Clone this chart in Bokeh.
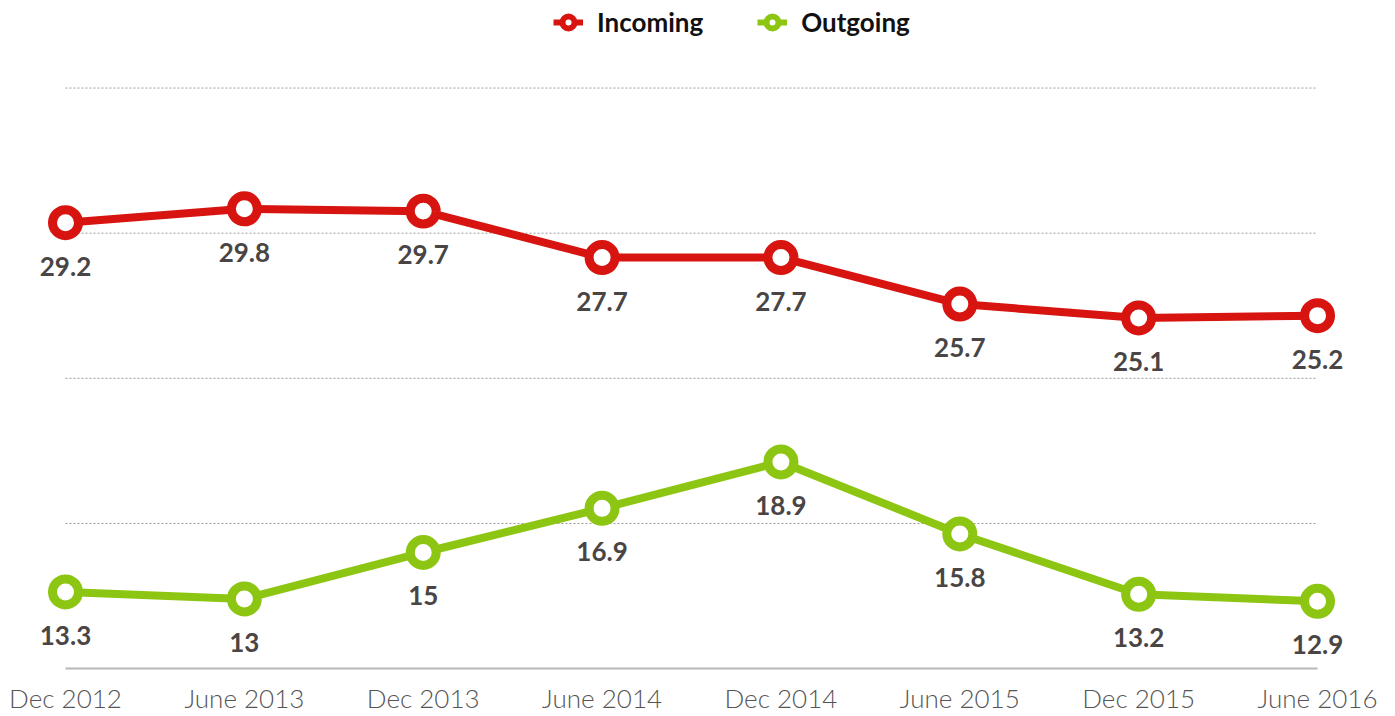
from bokeh.plotting import figure
from bokeh.models import ColumnDataSource, Range1d, FixedTicker, Legend, LegendItem
from bokeh.core.properties import value
from bokeh.embed import file_html
from bokeh.resources import INLINE

periods = ["Dec 2012", "June 2013", "Dec 2013", "June 2014", "Dec 2014", "June 2015", "Dec 2015", "June 2016"]
incoming = [29.2, 29.8, 29.7, 27.7, 27.7, 25.7, 25.1, 25.2]
outgoing = [13.3, 13.0, 15.0, 16.9, 18.9, 15.8, 13.2, 12.9]
grid_values = [16.25, 22.5, 28.75, 35]
baseline_value = 10

RED = "#D7140F"
GREEN = "#8DC612"
LABEL = "#4A4545"
FONT = "Lato"

xs = list(range(len(periods)))
n = len(periods)

p = figure(width=1390, height=716, output_backend="svg", toolbar_location=None,
           x_range=Range1d(-0.3634, 7.408), y_range=Range1d(9.66, 38.77),
           min_border_left=0, min_border_right=0, min_border_top=0, min_border_bottom=0)
p.outline_line_color = None
p.background_fill_color = "white"
p.border_fill_color = "white"

p.yaxis.visible = False
p.xgrid.visible = False
p.ygrid.visible = False

# dotted horizontal gridlines spanning first to last period
gsrc = ColumnDataSource(dict(x0=[0] * len(grid_values), x1=[n - 1] * len(grid_values),
                             y=grid_values))
p.segment("x0", "y", "x1", "y", source=gsrc, line_color="#9a9a9a", line_width=1, line_dash="2 2")
# solid baseline
bsrc = ColumnDataSource(dict(x0=[0], x1=[n - 1], y=[baseline_value]))
p.segment("x0", "y", "x1", "y", source=bsrc, line_color="#b8b8b8", line_width=2)

p.xaxis.ticker = FixedTicker(ticks=xs)
p.xaxis.major_label_overrides = {i: s for i, s in enumerate(periods)}
p.xaxis.major_tick_line_color = None
p.xaxis.major_tick_out = 0
p.xaxis.major_tick_in = 0
p.xaxis.minor_tick_line_color = None
p.xaxis.minor_tick_out = 0
p.xaxis.axis_line_color = None
p.xaxis.major_label_standoff = 5
p.xaxis.major_label_text_font = "Lato Light"
p.xaxis.major_label_text_font_size = "26px"
p.xaxis.major_label_text_color = "#555555"

items = []
for name, vals, col in [("Incoming", incoming, RED), ("Outgoing", outgoing, GREEN)]:
    src = ColumnDataSource(dict(x=xs, y=vals, t=[f"{v:g}" for v in vals]))
    # thinner copies drawn first (fully covered by the main marks) — used for the legend symbol
    lg_line = p.line("x", "y", source=src, line_color=col, line_width=6)
    lg_sc = p.scatter("x", "y", source=src, size=13, fill_color="white", line_color=col, line_width=6)
    p.line("x", "y", source=src, line_color=col, line_width=8)
    p.scatter("x", "y", source=src, size=26, fill_color="white", line_color=col, line_width=9)
    p.text("x", "y", text="t", source=src, text_align="center", text_baseline="top",
           y_offset=34, text_font=value(FONT), text_font_style="bold",
           text_font_size="26px", text_color=LABEL)
    items.append(LegendItem(label=name, renderers=[lg_line, lg_sc]))

legend = Legend(items=items, orientation="horizontal", location=(553, 638),
                label_text_font=FONT, label_text_font_style="bold", label_text_font_size="26px",
                label_text_color="#111111", glyph_width=30, glyph_height=30, label_standoff=14,
                spacing=54, padding=0, margin=0, border_line_color=None,
                background_fill_alpha=0)
p.add_layout(legend, "center")

open("out.html", "w").write(file_html(p, INLINE))
